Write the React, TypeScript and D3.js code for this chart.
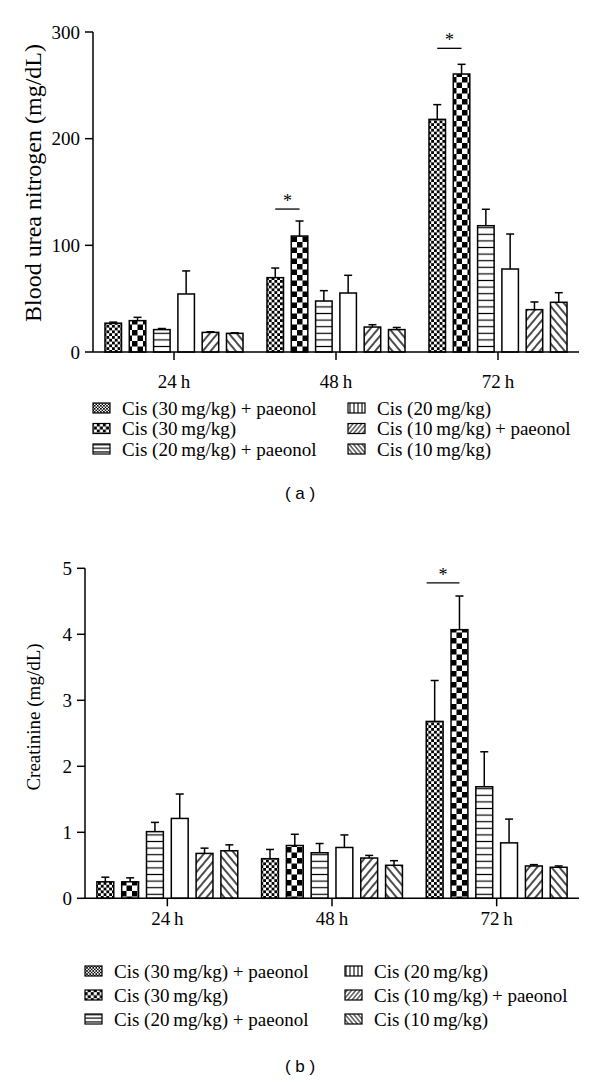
import React from "react";
import * as d3 from "d3";

const categories = ["24\u2009h", "48\u2009h", "72\u2009h"];
const series = [
  "Cis (30\u2009mg/kg) + paeonol",
  "Cis (30\u2009mg/kg)",
  "Cis (20\u2009mg/kg) + paeonol",
  "Cis (20\u2009mg/kg)",
  "Cis (10\u2009mg/kg)\u2009+ paeonol",
  "Cis (10\u2009mg/kg)",
];
const patternIds = ["fineCheck", "coarseCheck", "hLines", "blank", "diagUp", "diagDown"];
const legendPatternIds = ["fineCheckL", "coarseCheckL", "hLinesL", "vLinesL", "diagUpL", "diagDownL"];

// Blood urea nitrogen (mg/dL): rows = time point, columns = series
const bunMean = [
  [27, 29.4, 21, 54.4, 18.4, 17.5],
  [69.7, 108.7, 47.8, 55.3, 23.4, 21],
  [218.1, 260.6, 118.4, 77.8, 39.7, 46.6],
];
const bunSem = [
  [1, 3.1, 1, 21.6, 0.6, 0.5],
  [9, 14.1, 9.7, 16.6, 2.2, 2],
  [13.8, 9.1, 15.4, 32.8, 7.2, 9],
];
const bunTicks = [0, 100, 200, 300];

// Creatinine (mg/dL)
const creMean = [
  [0.25, 0.25, 1.01, 1.21, 0.68, 0.72],
  [0.6, 0.8, 0.69, 0.77, 0.61, 0.5],
  [2.68, 4.07, 1.69, 0.84, 0.49, 0.47],
];
const creSem = [
  [0.07, 0.06, 0.14, 0.37, 0.08, 0.09],
  [0.14, 0.17, 0.14, 0.19, 0.04, 0.07],
  [0.62, 0.51, 0.53, 0.36, 0.02, 0.02],
];
const creTicks = [0, 1, 2, 3, 4, 5];

const bunSig = [
  { cat: 1, level: 134 },
  { cat: 2, level: 284.7 },
];
const creSig = [{ cat: 2, level: 4.78 }];

const SERIF = "'Liberation Serif', 'Times New Roman', serif";
const SANS = "'Liberation Sans', Arial, sans-serif";

function Patterns() {
  const mk = (suffix: string, s: number) => (
    <>
      <pattern id={"fineCheck" + suffix} patternUnits="userSpaceOnUse" width={5.6 * s} height={5.6 * s}>
        <rect width={5.6 * s} height={5.6 * s} fill="#fff" />
        <rect x={0} y={0} width={2.8 * s} height={2.8 * s} fill="#000" />
        <rect x={2.8 * s} y={2.8 * s} width={2.8 * s} height={2.8 * s} fill="#000" />
      </pattern>
      <pattern id={"coarseCheck" + suffix} patternUnits="userSpaceOnUse" width={11 * s} height={11 * s}>
        <rect width={11 * s} height={11 * s} fill="#fff" />
        <rect x={0} y={0} width={5.5 * s} height={5.5 * s} fill="#000" />
        <rect x={5.5 * s} y={5.5 * s} width={5.5 * s} height={5.5 * s} fill="#000" />
      </pattern>
      <pattern id={"hLines" + suffix} patternUnits="userSpaceOnUse" width={6.6 * s} height={6.6 * s}>
        <rect width={6.6 * s} height={6.6 * s} fill="#fff" />
        <line x1={0} x2={6.6 * s} y1={3.3 * s} y2={3.3 * s} stroke="#000" strokeWidth={1.2} />
      </pattern>
      <pattern id={"vLines" + suffix} patternUnits="userSpaceOnUse" width={4} height={4}>
        <rect width={4} height={4} fill="#fff" />
        <line y1={0} y2={4} x1={2} x2={2} stroke="#000" strokeWidth={1.1} />
      </pattern>
      <pattern id={"diagUp" + suffix} patternUnits="userSpaceOnUse" width={6 * s} height={6 * s} patternTransform="rotate(40)">
        <rect width={6 * s} height={6 * s} fill="#fff" />
        <line y1={0} y2={6 * s} x1={3 * s} x2={3 * s} stroke="#000" strokeWidth={1.4 * Math.max(s, 0.7)} />
      </pattern>
      <pattern id={"diagDown" + suffix} patternUnits="userSpaceOnUse" width={6 * s} height={6 * s} patternTransform="rotate(-40)">
        <rect width={6 * s} height={6 * s} fill="#fff" />
        <line y1={0} y2={6 * s} x1={3 * s} x2={3 * s} stroke="#000" strokeWidth={1.4 * Math.max(s, 0.7)} />
      </pattern>
    </>
  );
  return (
    <defs>
      {mk("", 1)}
      {mk("L", 0.55)}
      <pattern id="blank" patternUnits="userSpaceOnUse" width={4} height={4}>
        <rect width={4} height={4} fill="#fff" />
      </pattern>
    </defs>
  );
}

type PanelProps = {
  mean: number[][];
  sem: number[][];
  ticks: number[];
  yMax: number;
  axisX: number;
  axisRight: number;
  y0: number;
  yTop: number;
  pitch: number;
  yLabel: string;
  yLabelSize: number;
  yLabelX: number;
  yLabelY: number;
  xLabelY: number;
  sig: { cat: number; level: number }[];
  sigStartOffset: number;
  legendTop: number;
  legendGap: number;
  legendX1: number;
  legendX2: number;
  caption: string;
  captionY: number;
};

const FS = 19;

function Panel(p: PanelProps) {
  const x0 = d3.scaleBand().domain(categories).range([p.axisX, p.axisRight]).padding(0);
  const x1 = d3
    .scaleBand()
    .domain(series)
    .range([-3 * p.pitch, 3 * p.pitch])
    .paddingInner(0.32)
    .paddingOuter(0.16);
  const y = d3.scaleLinear().domain([0, p.yMax]).range([p.y0, p.yTop]);
  const bw = x1.bandwidth();
  const center = (c: string) => (x0(c) as number) + x0.bandwidth() / 2;

  return (
    <g>
      {/* bars */}
      {categories.map((c, ci) =>
        series.map((s, si) => {
          const bx = center(c) + (x1(s) as number);
          const top = y(p.mean[ci][si]);
          const errTop = y(p.mean[ci][si] + p.sem[ci][si]);
          const mx = bx + bw / 2;
          return (
            <g key={c + s}>
              <line x1={mx} x2={mx} y1={top} y2={errTop} stroke="#000" strokeWidth={1.5} />
              <line x1={mx - 4} x2={mx + 4} y1={errTop} y2={errTop} stroke="#000" strokeWidth={1.5} />
              <rect
                x={bx}
                y={top}
                width={bw}
                height={p.y0 - top}
                fill={`url(#${patternIds[si]})`}
                stroke="#000"
                strokeWidth={1.5}
              />
            </g>
          );
        })
      )}
      {/* y axis */}
      <line x1={p.axisX} x2={p.axisX} y1={p.y0} y2={p.yTop} stroke="#000" strokeWidth={1.5} />
      {p.ticks.map((t) => (
        <g key={t}>
          <line x1={p.axisX - 8} x2={p.axisX} y1={y(t)} y2={y(t)} stroke="#000" strokeWidth={1.5} />
          <text
            x={p.axisX - 13}
            y={y(t)}
            dy="0.35em"
            textAnchor="end"
            fontFamily={SERIF}
            fontSize={FS}
          >
            {t}
          </text>
        </g>
      ))}
      {/* x axis */}
      <line x1={p.axisX} x2={p.axisRight} y1={p.y0} y2={p.y0} stroke="#000" strokeWidth={1.5} />
      {categories.map((c) => (
        <g key={c}>
          <line x1={center(c)} x2={center(c)} y1={p.y0} y2={p.y0 + 8} stroke="#000" strokeWidth={1.5} />
          <text x={center(c)} y={p.xLabelY} textAnchor="middle" fontFamily={SERIF} fontSize={FS}>
            {c}
          </text>
        </g>
      ))}
      {/* y label */}
      <text
        transform={`translate(${p.yLabelX},${p.yLabelY}) rotate(-90)`}
        textAnchor="middle"
        dy="0.35em"
        fontFamily={SERIF}
        fontSize={p.yLabelSize}
      >
        {p.yLabel}
      </text>
      {/* significance */}
      {p.sig.map((sg, i) => {
        const c = categories[sg.cat];
        const a = center(c) + (x1(series[0]) as number) + bw / 2 + p.sigStartOffset;
        const b = center(c) + (x1(series[1]) as number) + bw / 2;
        const ly = y(sg.level);
        return (
          <g key={i}>
            <line x1={a} x2={b} y1={ly} y2={ly} stroke="#000" strokeWidth={1.3} />
            <text x={(a + b) / 2} y={ly - 2} textAnchor="middle" fontFamily={SERIF} fontSize={18}>
              *
            </text>
          </g>
        );
      })}
      {/* legend */}
      {series.map((s, si) => {
        const col = si < 3 ? 0 : 1;
        const row = si % 3;
        const lx = col === 0 ? p.legendX1 : p.legendX2;
        const ly = p.legendTop + row * p.legendGap;
        return (
          <g key={s}>
            <rect
              x={lx}
              y={ly - 5}
              width={17}
              height={10}
              fill={`url(#${legendPatternIds[si]})`}
              stroke="#000"
              strokeWidth={1.2}
            />
            <text x={lx + 29} y={ly} dy="0.35em" fontFamily={SERIF} fontSize={FS}>
              {s}
            </text>
          </g>
        );
      })}
      <text
        x={300}
        y={p.captionY}
        dy="0.35em"
        textAnchor="middle"
        fontFamily={SANS}
        fontSize={17}
        xmlSpace="preserve"
      >
        {p.caption}
      </text>
    </g>
  );
}

export default function App() {
  return (
    <svg
      width={600}
      height={1085}
      viewBox="0 0 600 1085"
      style={{ position: "absolute", left: 0, top: 0, background: "#fff" }}
    >
      <Patterns />
      <rect width={600} height={1085} fill="#fff" />
      <Panel
        mean={bunMean}
        sem={bunSem}
        ticks={bunTicks}
        yMax={300}
        axisX={93}
        axisRight={579}
        y0={352}
        yTop={32}
        pitch={24.3}
        yLabel="Blood urea nitrogen (mg/dL)"
        yLabelSize={24}
        yLabelX={33}
        yLabelY={183}
        xLabelY={388}
        sig={bunSig}
        sigStartOffset={0}
        legendTop={408}
        legendGap={20.5}
        legendX1={93}
        legendX2={348}
        caption="( a )"
        captionY={493}
      />
      <Panel
        mean={creMean}
        sem={creSem}
        ticks={creTicks}
        yMax={5}
        axisX={85}
        axisRight={579}
        y0={898.3}
        yTop={568.3}
        pitch={24.8}
        yLabel="Creatinine (mg/dL)"
        yLabelSize={19}
        yLabelX={33}
        yLabelY={717}
        xLabelY={925}
        sig={creSig}
        sigStartOffset={-8}
        legendTop={971}
        legendGap={24}
        legendX1={85}
        legendX2={345}
        caption="( b )"
        captionY={1066}
      />
    </svg>
  );
}
